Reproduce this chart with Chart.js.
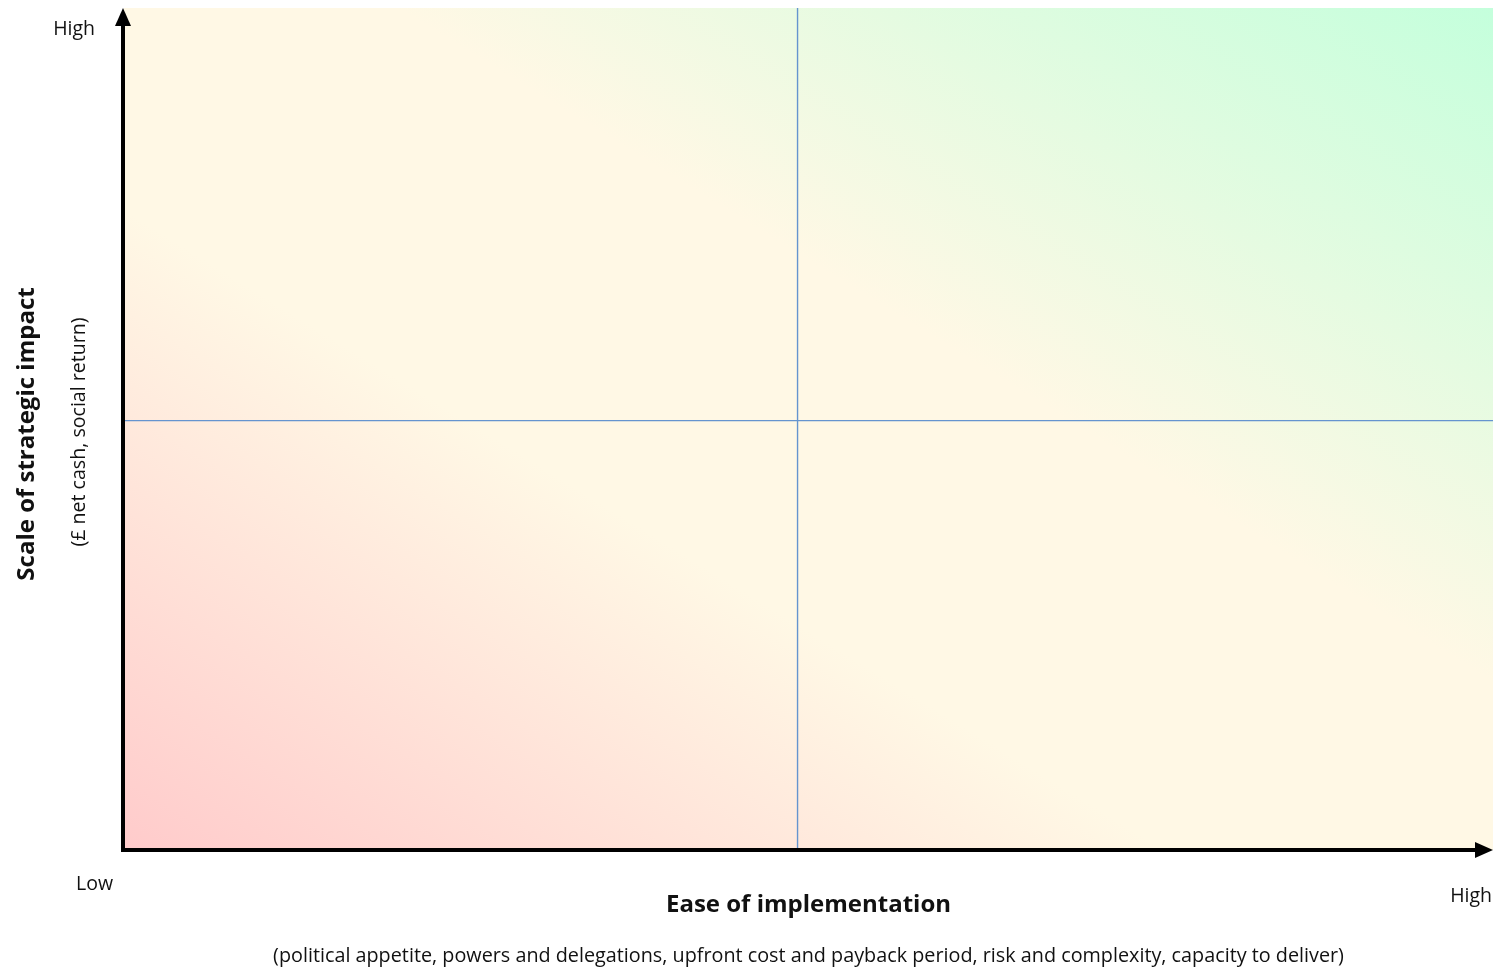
<!DOCTYPE html>
<html>
<head>
<meta charset="utf-8">
<script src="https://cdn.jsdelivr.net/npm/chart.js@4.4.1/dist/chart.umd.min.js"></script>
<style>
  html, body { margin: 0; padding: 0; background: #ffffff; }
  #wrap { width: 1497px; height: 969px; position: relative; }
</style>
</head>
<body>
<div id="wrap"><canvas id="c" width="1497" height="969"></canvas></div>
<script>
// ---- data ----
const xAxisEnds = ['Low', 'High'];
const yAxisEnds = ['Low', 'High'];
const xTitle = 'Ease of implementation';
const xSubtitle = '(political appetite, powers and delegations, upfront cost and payback period, risk and complexity, capacity to deliver)';
const yTitle = 'Scale of strategic impact';
const ySubtitle = '(£ net cash, social return)';
const axisRange = [0, 1];
const quadrantSplitX = [0.492];
const quadrantSplitY = [0.51];

const FONT = '"Open Sans", "Noto Sans", sans-serif';

const dividerDatasets = [
  ...quadrantSplitX.map(v => ({
    data: [{x: v, y: axisRange[0]}, {x: v, y: axisRange[1]}]
  })),
  ...quadrantSplitY.map(v => ({
    data: [{x: axisRange[0], y: v}, {x: axisRange[1], y: v}]
  }))
].map(d => Object.assign(d, {
  type: 'line',
  borderColor: '#6594cf',
  borderWidth: 1.4,
  pointRadius: 0,
  fill: false,
  tension: 0
}));

const backgroundPlugin = {
  id: 'bgGradient',
  beforeDatasetsDraw(chart) {
    const {ctx, chartArea: a} = chart;
    const W = a.right - a.left, H = a.bottom - a.top;
    const cx = (a.left + a.right) / 2, cy = (a.top + a.bottom) / 2;
    const L = Math.hypot(W, H);
    const nx = H / L, ny = -W / L;      // toward top-right
    const d = W * H / L;
    const g = ctx.createLinearGradient(cx - nx * d, cy - ny * d, cx + nx * d, cy + ny * d);
    g.addColorStop(0, '#ffcbcb');
    g.addColorStop(0.38, '#fff8e5');
    g.addColorStop(0.6, '#fff8e5');
    g.addColorStop(1, '#c4ffdc');
    ctx.save();
    ctx.fillStyle = g;
    ctx.fillRect(a.left, a.top, W, H);
    ctx.restore();
  }
};

const axesPlugin = {
  id: 'arrowAxes',
  afterDatasetsDraw(chart) {
    const {ctx, chartArea: a} = chart;
    const x0 = a.left - 1, y0 = a.bottom;
    ctx.save();
    ctx.strokeStyle = '#000';
    ctx.fillStyle = '#000';
    ctx.lineWidth = 4;
    ctx.lineCap = 'butt';
    // y axis
    ctx.beginPath();
    ctx.moveTo(x0, y0 + 2);
    ctx.lineTo(x0, a.top + 14);
    ctx.stroke();
    ctx.beginPath();
    ctx.moveTo(x0, a.top);
    ctx.lineTo(x0 - 8, a.top + 18);
    ctx.lineTo(x0 + 8, a.top + 18);
    ctx.closePath();
    ctx.fill();
    // x axis
    ctx.beginPath();
    ctx.moveTo(x0 - 2, y0);
    ctx.lineTo(a.right - 14, y0);
    ctx.stroke();
    ctx.beginPath();
    ctx.moveTo(a.right, y0);
    ctx.lineTo(a.right - 18, y0 - 8);
    ctx.lineTo(a.right - 18, y0 + 8);
    ctx.closePath();
    ctx.fill();
    ctx.restore();
  }
};

const labelsPlugin = {
  id: 'matrixLabels',
  afterDraw(chart) {
    const {ctx, chartArea: a} = chart;
    const midX = (a.left + a.right) / 2;
    const midY = (a.top + a.bottom) / 2;
    ctx.save();
    ctx.fillStyle = '#111';
    ctx.textBaseline = 'middle';
    ctx.font = '19.5px ' + FONT;
    ctx.textAlign = 'right';
    ctx.fillText(yAxisEnds[1], a.left - 29, a.top + 21);
    ctx.fillText(xAxisEnds[0], a.left - 11, a.bottom + 34);
    ctx.fillText(xAxisEnds[1], a.right - 1, a.bottom + 46);
    // x titles
    ctx.textAlign = 'center';
    ctx.font = 'bold 24px ' + FONT;
    ctx.fillText(xTitle, midX, a.bottom + 55);
    ctx.font = '19.8px ' + FONT;
    ctx.fillText(xSubtitle, midX, a.bottom + 106);
    // y titles
    ctx.save();
    ctx.translate(a.left - 97, midY + 5);
    ctx.rotate(-Math.PI / 2);
    ctx.font = 'bold 24px ' + FONT;
    ctx.fillText(yTitle, 0, 0);
    ctx.restore();
    ctx.save();
    ctx.translate(a.left - 45, midY + 3);
    ctx.rotate(-Math.PI / 2);
    ctx.font = '19.6px ' + FONT;
    ctx.fillText(ySubtitle, 0, 0);
    ctx.restore();
    ctx.restore();
  }
};

new Chart(document.getElementById('c'), {
  type: 'line',
  data: { datasets: dividerDatasets },
  options: {
    responsive: false,
    animation: false,
    events: [],
    layout: { padding: { left: 124, right: 4, top: 8, bottom: 119 } },
    plugins: { legend: { display: false }, tooltip: { enabled: false }, title: { display: false } },
    scales: {
      x: { type: 'linear', min: axisRange[0], max: axisRange[1], display: false },
      y: { type: 'linear', min: axisRange[0], max: axisRange[1], display: false }
    }
  },
  plugins: [backgroundPlugin, axesPlugin, labelsPlugin]
});
</script>
</body>
</html>
